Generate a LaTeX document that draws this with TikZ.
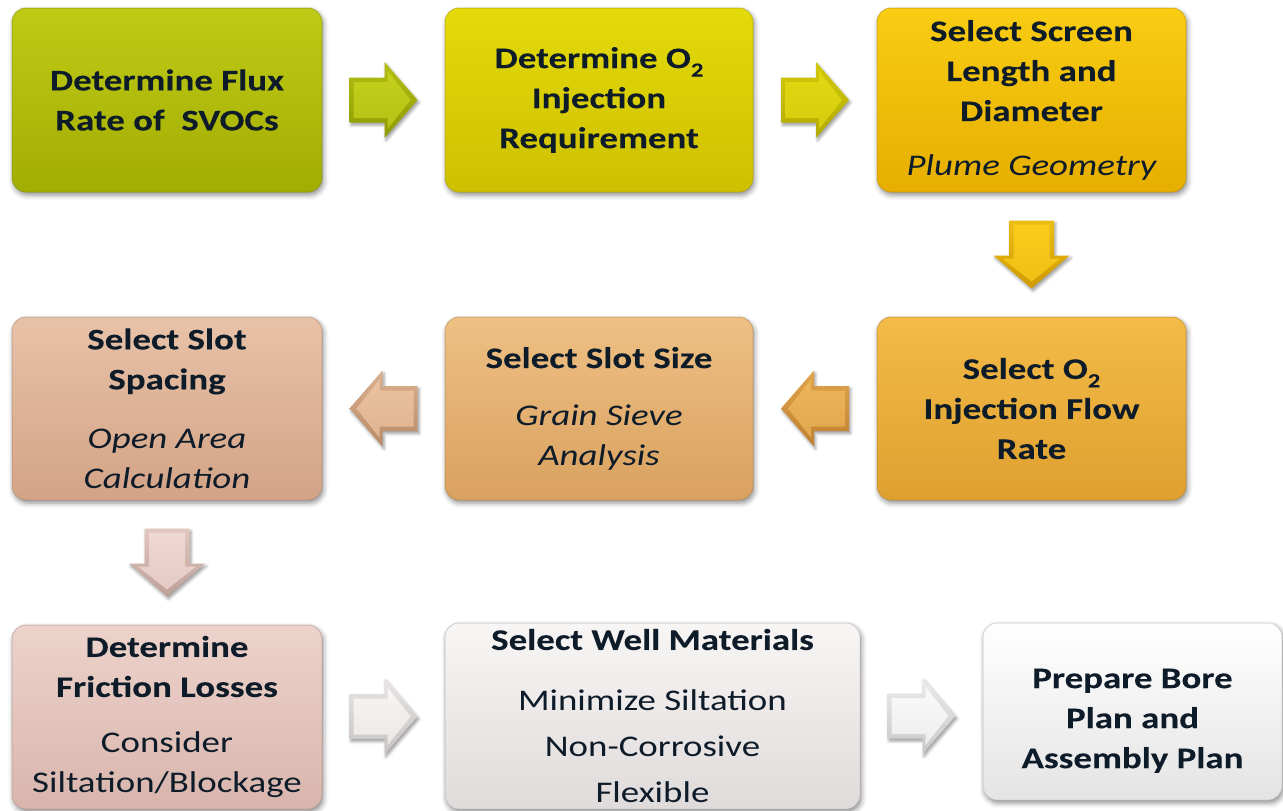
\documentclass[tikz,border=0pt]{standalone}
\usepackage{fontspec}
\setmainfont{Carlito}[FakeStretch=1.23, BoldFeatures={FakeBold=0.7}]
\usetikzlibrary{calc,shadows.blur}

\definecolor{ink}{HTML}{0E1B29}
% box fills: top / bottom
\definecolor{b1T}{HTML}{BFCA16}\definecolor{b1B}{HTML}{A2AD02}
\definecolor{b2T}{HTML}{E4DA0A}\definecolor{b2B}{HTML}{CEC000}
\definecolor{b3T}{HTML}{F8CD12}\definecolor{b3B}{HTML}{E7AE00}
\definecolor{b4T}{HTML}{F3BB48}\definecolor{b4B}{HTML}{DFA030}
\definecolor{b5T}{HTML}{EEC084}\definecolor{b5B}{HTML}{D9A15F}
\definecolor{b6T}{HTML}{E8C2A8}\definecolor{b6B}{HTML}{D3A386}
\definecolor{b7T}{HTML}{EDD3CB}\definecolor{b7B}{HTML}{D8B5AC}
\definecolor{b8T}{HTML}{F8F5F5}\definecolor{b8B}{HTML}{E0DBDB}
\definecolor{b9T}{HTML}{FFFFFF}\definecolor{b9B}{HTML}{E4E4E4}
% block arrows: light / dark
\definecolor{a1L}{HTML}{C4D01C}\definecolor{a1D}{HTML}{8E9A00}
\definecolor{a2L}{HTML}{E2D812}\definecolor{a2D}{HTML}{B2AA00}
\definecolor{a3L}{HTML}{F9CC1C}\definecolor{a3D}{HTML}{D09A00}
\definecolor{a4L}{HTML}{EDB458}\definecolor{a4D}{HTML}{C08030}
\definecolor{a5L}{HTML}{EBC2A0}\definecolor{a5D}{HTML}{B88A68}
\definecolor{a6L}{HTML}{EFD8D0}\definecolor{a6D}{HTML}{BFA098}
\definecolor{a7L}{HTML}{F7F4F4}\definecolor{a7D}{HTML}{C8C2C2}
\definecolor{a8L}{HTML}{FAFAFA}\definecolor{a8D}{HTML}{C8C8C8}

\newcommand\subtwo{\raisebox{-0.28em}{\fontsize{20}{20}\selectfont 2}}

\tikzset{
  stepbox/.style={rounded corners=14pt, inner sep=0pt, align=center, text=ink,
    minimum width=310pt, minimum height=184pt,
    font=\fontsize{30}{40}\selectfont\bfseries,
    blur shadow={shadow xshift=1.5pt, shadow yshift=-3pt,
                 shadow blur radius=5pt, shadow opacity=45}},
  tone/.style={top color=#1T, bottom color=#1B, draw=#1B!80!black,
    draw opacity=0.45, line width=1pt},
  arrowbody/.style={top color=#1L!70!#1D, bottom color=#1D,
    blur shadow={shadow xshift=1.5pt, shadow yshift=-2.5pt,
                 shadow blur radius=3pt, shadow opacity=40}},
  arrowface/.style={top color=#1L, bottom color=#1L!75!#1D},
}

% block arrow centred between two anchors, pointing along the given angle
\newcommand\flowarrow[5]{%
  \coordinate (#1) at ($(#2)!0.5!(#3)$);
  \begin{scope}[shift={(#1)}, rotate=#4]
    \path[arrowbody=#5] (-34,-22.5) -- (1,-22.5) -- (1,-38) -- (34,0)
      -- (1,38) -- (1,22.5) -- (-34,22.5) -- cycle;
    \path[arrowface=#5] (-30,-18) -- (4,-18) -- (4,-29) -- (27,0)
      -- (4,29) -- (4,18) -- (-30,18) -- cycle;
  \end{scope}}

\begin{document}
\begin{tikzpicture}[x=1pt, y=-1pt]
\useasboundingbox (0,0) rectangle (1283,811);

% first row
\node[stepbox, tone=b1] (b1) at (167,100)
  {Determine Flux\\Rate of\ \ SVOCs};
\node[stepbox, tone=b2, minimum width=308pt] (b2) at (599,100)
  {Determine O\subtwo\\Injection\\Requirement};
\node[stepbox, tone=b3, minimum width=309pt] (b3) at (1031.5,100)
  {\fontsize{30}{41}\selectfont Select Screen\\Length and\\Diameter\\[14pt]{\mdseries\itshape Plume Geometry}};

% second row
\node[stepbox, tone=b4, minimum width=309pt, minimum height=183pt] (b4) at (1031.5,408.5)
  {Select O\subtwo\\Injection Flow\\Rate};
\node[stepbox, tone=b5, minimum width=308pt, minimum height=183pt] (b5) at (599,408.5)
  {Select Slot Size\\[17pt]{\mdseries\itshape Grain Sieve}\\{\mdseries\itshape Analysis}};
\node[stepbox, tone=b6, minimum height=183pt] (b6) at (167,408.5)
  {Select Slot\\Spacing\\[19pt]{\mdseries\itshape Open Area}\\{\mdseries\itshape Calculation}};

% third row
\node[stepbox, tone=b7] (b7) at (167,717)
  {\fontsize{30}{41}\selectfont Determine\\Friction Losses\\[16pt]{\mdseries Consider}\\{\mdseries Siltation/Blockage}};
\node[stepbox, tone=b8, minimum width=415pt, minimum height=186pt] (b8) at (652.5,716)
  {Select Well Materials\\[21pt]{\mdseries Minimize Siltation}\\[6pt]{\mdseries Non-Corrosive}\\[6pt]{\mdseries Flexible}};
\node[stepbox, tone=b9, minimum width=299pt, minimum height=177pt] (b9) at (1132.5,711.5)
  {\rule{0pt}{38pt}Prepare Bore\\Plan and\\Assembly Plan};

% block arrows between the steps
\flowarrow{a1}{b1.east}{b2.west}{0}{a1}
\flowarrow{a2}{b2.east}{b3.west}{0}{a2}
\flowarrow{a3}{b3.south}{b4.north}{-90}{a3}
\flowarrow{a4}{b4.west}{b5.east}{180}{a4}
\flowarrow{a5}{b5.west}{b6.east}{180}{a5}
\flowarrow{a6}{b6.south}{b7.north}{-90}{a6}
\flowarrow{a7}{b7.east}{b8.west}{0}{a7}
\flowarrow{a8}{b8.east}{b9.west|-b8.east}{0}{a8}
\end{tikzpicture}
\end{document}
